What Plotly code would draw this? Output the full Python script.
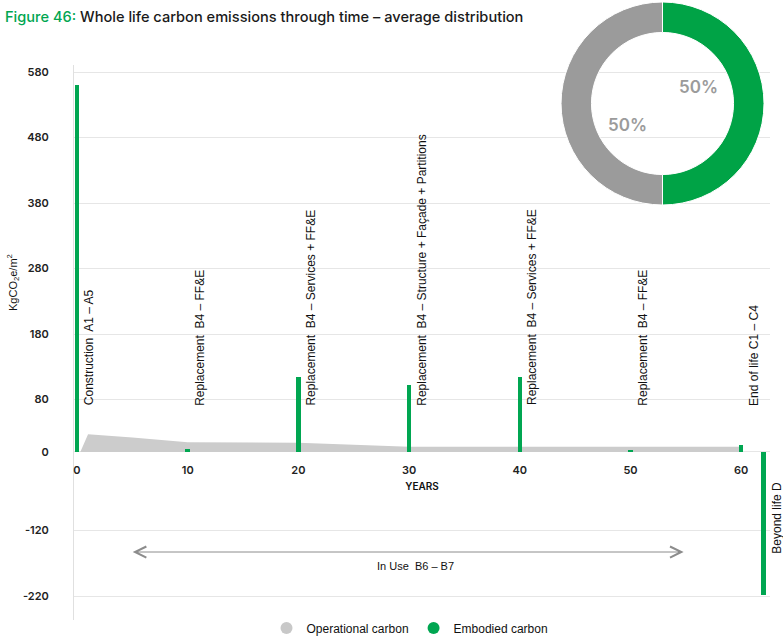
import plotly.graph_objects as go

# ---- data ----
years_emb = [0, 10, 20, 30, 40, 50, 60, 62]
emb_values = [560, 5, 115, 102, 115, 3, 11, -218]
stage_labels = [
    "Construction\u00a0 A1 – A5",
    "Replacement\u00a0 B4 – FF&E",
    "Replacement\u00a0 B4 – Services + FF&E",
    "Replacement\u00a0 B4 – Structure + Façade + Partitions",
    "Replacement\u00a0 B4 – Services + FF&E",
    "Replacement\u00a0 B4 – FF&E",
    "End of life C1 – C4",
    "Beyond life D",
]
years_op = [0.3, 1, 5, 10, 20, 30, 60, 60]
op_values = [0, 27, 22, 15, 14, 8, 8, 0]
share_names = ["Operational carbon", "Embodied carbon"]
share_values = [50, 50]
y_ticks = [580, 480, 380, 280, 180, 80, 0, -120, -220]
y_tick_text = ["580", "480", "380", "280", "180", "80", "0", "-120", "-220"]
x_ticks = [0, 10, 20, 30, 40, 50, 60]

GREEN = "#00A651"
GREY_AREA = "#CCCCCC"
GREY_DONUT = "#9B9B9B"
FONT = "Liberation Sans"
TICKFONT = dict(family="Inter", size=11, color="#222", weight=600)

W, H = 783, 636
ML, MR, MT, MB = 74, 13, 0, 0
plot_top_px, plot_bot_px = 65, 620
y_range = [-256.5, 590.8]
x_range = [-0.27, 62.6]

def py(px):  # pixel y -> paper fraction
    return (H - MB - px) / (H - MT - MB)

def pxx(px):  # pixel x -> paper fraction
    return (px - ML) / (W - ML - MR)

def xdata_to_paper(v):
    return (v - x_range[0]) / (x_range[1] - x_range[0])

fig = go.Figure()

# operational carbon area on the base axes
fig.add_trace(go.Scatter(
    x=years_op, y=op_values, mode="lines", fill="tozeroy",
    fillcolor=GREY_AREA, line=dict(width=0, color=GREY_AREA),
    showlegend=False, hoverinfo="skip"))

# embodied bars on overlaying axes so they sit on top of the area
fig.add_trace(go.Bar(
    x=years_emb, y=emb_values, width=0.4, marker=dict(color=GREEN, line=dict(width=0)),
    showlegend=False, xaxis="x2", yaxis="y2"))

# legend proxies
fig.add_trace(go.Scatter(x=[None], y=[None], mode="markers", name=share_names[0],
                         marker=dict(size=11, color="#C8C8C8", symbol="circle")))
fig.add_trace(go.Scatter(x=[None], y=[None], mode="markers", name=share_names[1],
                         marker=dict(size=11, color=GREEN, symbol="circle")))

# donut (embodied on the right half, operational on the left half)
fig.add_trace(go.Pie(
    labels=[share_names[1], share_names[0]], values=[share_values[1], share_values[0]],
    hole=0.70, sort=False, direction="clockwise", rotation=0,
    marker=dict(colors=["#00A346", GREY_DONUT], line=dict(color="white", width=1)),
    textinfo="none", showlegend=False, hoverinfo="skip",
    domain=dict(x=[pxx(561), pxx(764)], y=[py(205), py(2)])))

annotations = []
# rotated stage labels
for yr, lab in zip(years_emb, stage_labels):
    if yr == 62:
        annotations.append(dict(x=xdata_to_paper(yr + 1.25), y=-158, xref="paper", yref="y",
                                text=lab, textangle=-90, showarrow=False, xanchor="center",
                                yanchor="bottom", font=dict(family=FONT, size=12, color="#111")))
    else:
        annotations.append(dict(x=yr + 1.15, y=68, xref="x", yref="y", text=lab,
                                textangle=-90, showarrow=False, xanchor="center",
                                yanchor="bottom", font=dict(family=FONT, size=12, color="#111")))

# donut percentages
total = sum(share_values)
annotations.append(dict(x=pxx(698), y=py(87), xref="paper", yref="paper",
                        xanchor="center", yanchor="middle",
                        text=f"{round(share_values[1] / total * 100)}%", showarrow=False,
                        font=dict(family="Inter", size=17, color=GREY_DONUT, weight=600)))
annotations.append(dict(x=pxx(627), y=py(125), xref="paper", yref="paper",
                        xanchor="center", yanchor="middle",
                        text=f"{round(share_values[0] / total * 100)}%", showarrow=False,
                        font=dict(family="Inter", size=17, color=GREY_DONUT, weight=600)))

# in-use arrow
annotations.append(dict(x=54.8, y=-152.7, ax=4.9, ay=-152.7, xref="x", yref="y",
                        axref="x", ayref="y", text="", showarrow=True, arrowhead=5,
                        startarrowhead=5, arrowside="end+start", arrowsize=2.2,
                        arrowwidth=1, arrowcolor="#8C8C8C"))
annotations.append(dict(x=30.6, y=-174, xref="x", yref="y", text="In Use\u00a0 B6 – B7",
                        showarrow=False, font=dict(family=FONT, size=11, color="#111")))

# y-axis title
annotations.append(dict(x=pxx(13), y=py(283), xref="paper", yref="paper",
                        xanchor="center", yanchor="middle",
                        text="KgCO<sub>2</sub>e/m<sup>2</sup>", textangle=-90, showarrow=False,
                        font=dict(family=FONT, size=11, color="#111")))

# title
annotations.append(dict(x=pxx(3), y=py(17), xref="paper", yref="paper", xanchor="left",
                        yanchor="middle", showarrow=False,
                        text=f"<span style='color:{GREEN}'>Figure 46:</span> Whole life carbon emissions through time – average distribution",
                        font=dict(family="Inter", size=14.6, color="#1a1a1a", weight=500)))

fig.update_layout(
    width=W, height=H, autosize=False,
    margin=dict(l=ML, r=MR, t=MT, b=MB, pad=0, autoexpand=False),
    paper_bgcolor="white", plot_bgcolor="white",
    bargap=0, barmode="overlay",
    font=dict(family=FONT, size=12, color="#1a1a1a"),
    xaxis=dict(range=x_range, tickvals=x_ticks, showgrid=False, zeroline=False,
               showline=False, anchor="free", position=py(452),
               ticks="outside", ticklen=8, tickcolor="rgba(0,0,0,0)",
               tickfont=TICKFONT,
               title=dict(text="YEARS", standoff=6,
                          font=dict(family="Inter", size=10, color="#111", weight=600))),
    yaxis=dict(range=y_range, domain=[py(plot_bot_px), py(plot_top_px)], tickvals=y_ticks,
               ticktext=y_tick_text,
               showgrid=True, gridcolor="#E6E6E6", gridwidth=1,
               zeroline=True, zerolinecolor="#E6E6E6", zerolinewidth=1,
               showline=True, linecolor="#E0E0E0", linewidth=1,
               ticks="outside", ticklen=22, tickcolor="rgba(0,0,0,0)",
               tickfont=TICKFONT),
    xaxis2=dict(range=x_range, overlaying="x", anchor="y2", visible=False),
    yaxis2=dict(range=y_range, overlaying="y", anchor="x2", visible=False),
    legend=dict(orientation="h", x=pxx(410), xanchor="center", y=py(628), yanchor="middle",
                font=dict(family=FONT, size=12, color="#111"), itemsizing="constant",
                bgcolor="rgba(0,0,0,0)"),
    annotations=annotations,
)

fig.write_html("out.html", config={"displayModeBar": False},
               post_script="document.body.style.margin='0';document.body.style.padding='0';"
                           "document.body.style.overflow='hidden';")
